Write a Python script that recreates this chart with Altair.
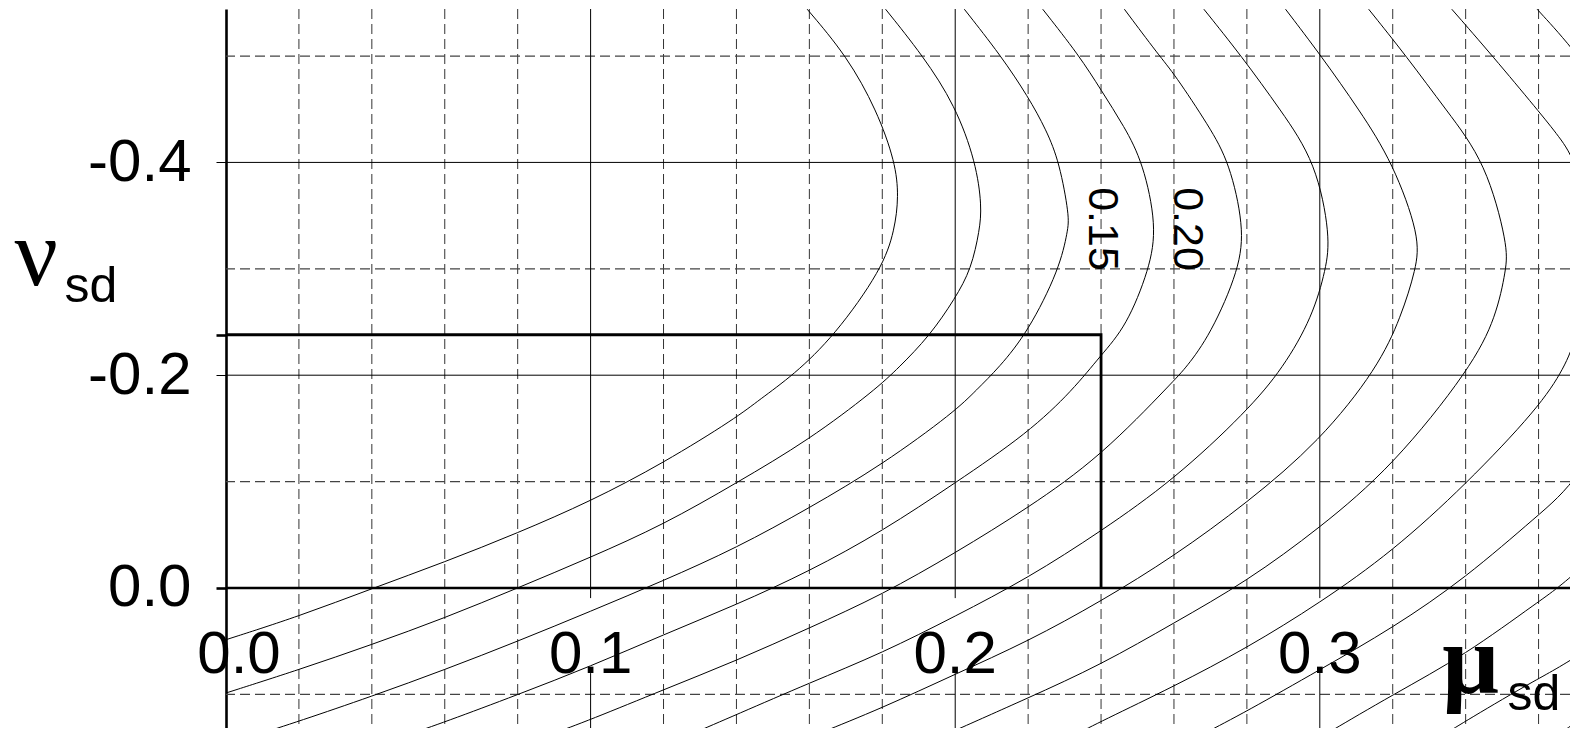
import altair as alt
import pandas as pd

# ---------------- values ----------------
# total reinforcement ratio of each plotted curve (0.15 and 0.20 are labelled)
OMEGA = [0.05, 0.10, 0.15, 0.20, 0.25, 0.30, 0.35, 0.40, 0.45, 0.50, 0.55, 0.60, 0.65]

# each curve, from the top of the diagram down (mu_sd, nu_sd)
MU_005 = [0.1594, 0.1703, 0.1785, 0.1836, 0.1845, 0.1834, 0.1800, 0.1669, 0.1556, 0.1463, 0.14, 0.12, 0.10, 0.08, 0.06, 0.04, 0.02, 0.0]
NU_005 = [-0.544, -0.500, -0.449, -0.400, -0.368, -0.3365, -0.300, -0.237, -0.200, -0.177, -0.160, -0.1175, -0.0815, -0.0517, -0.0244, 0.0006, 0.0266, 0.0486]

MU_010 = [0.1809, 0.1912, 0.20, 0.2057, 0.2073, 0.2067, 0.2044, 0.20, 0.193, 0.1845, 0.178, 0.16, 0.14, 0.12, 0.10, 0.08, 0.06, 0.04, 0.02, 0.0]
NU_010 = [-0.544, -0.500, -0.4537, -0.400, -0.3585, -0.3365, -0.2998, -0.2723, -0.237, -0.207, -0.1861, -0.1394, -0.0987, -0.0595, -0.0288, 0.0, 0.0282, 0.0532, 0.0768, 0.0987]

MU_015 = [0.2025, 0.2126, 0.22, 0.225, 0.2286, 0.2313, 0.2309, 0.2286, 0.22, 0.212, 0.2058, 0.20, 0.18, 0.16, 0.14, 0.12, 0.10, 0.08, 0.06, 0.04, 0.02, 0.0075]
NU_015 = [-0.544, -0.500, -0.4617, -0.4305, -0.400, -0.349, -0.3365, -0.2998, -0.2409, -0.207, -0.1861, -0.166, -0.1159, -0.0752, -0.0376, -0.0069, 0.0219, 0.0501, 0.0768, 0.1018, 0.1253, 0.139]

MU_020 = [0.224, 0.2341, 0.24, 0.2464, 0.2515, 0.2553, 0.2533, 0.2469, 0.24, 0.2323, 0.22, 0.20, 0.18, 0.16, 0.14, 0.12, 0.10, 0.08, 0.06, 0.049]
NU_020 = [-0.544, -0.500, -0.468, -0.4336, -0.400, -0.340, -0.300, -0.2456, -0.219, -0.1861, -0.1457, -0.0987, -0.0533, -0.0157, 0.0157, 0.0439, 0.0736, 0.1003, 0.126, 0.139]

MU_025 = [0.2464, 0.256, 0.26, 0.2697, 0.2752, 0.2792, 0.278, 0.270, 0.2633, 0.26, 0.24, 0.22, 0.20, 0.18, 0.16, 0.14, 0.12, 0.10, 0.088]
NU_025 = [-0.544, -0.500, -0.4837, -0.4336, -0.400, -0.340, -0.300, -0.238, -0.207, -0.195, -0.1237, -0.0752, -0.0329, 0.0063, 0.0376, 0.0683, 0.0956, 0.1238, 0.139]

MU_030 = [0.2682, 0.2785, 0.2893, 0.299, 0.3029, 0.3017, 0.298, 0.290, 0.28, 0.26, 0.24, 0.22, 0.20, 0.18, 0.16, 0.14, 0.1265]
NU_030 = [-0.544, -0.500, -0.449, -0.400, -0.330, -0.300, -0.255, -0.207, -0.166, -0.1018, -0.0533, -0.0094, 0.0266, 0.0611, 0.0893, 0.119, 0.139]

MU_035 = [0.2906, 0.3004, 0.3109, 0.32, 0.3275, 0.3264, 0.3223, 0.3159, 0.30, 0.28, 0.26, 0.24, 0.22, 0.20, 0.18, 0.161]
NU_035 = [-0.544, -0.500, -0.449, -0.400, -0.330, -0.300, -0.255, -0.207, -0.1379, -0.0799, -0.0298, 0.0125, 0.0501, 0.081, 0.1128, 0.139]

MU_040 = [0.3134, 0.3237, 0.3347, 0.3456, 0.3516, 0.3511, 0.3484, 0.3415, 0.32, 0.30, 0.28, 0.26, 0.24, 0.22, 0.1966]
NU_040 = [-0.544, -0.500, -0.449, -0.400, -0.321, -0.300, -0.255, -0.207, -0.1144, -0.0564, -0.0063, 0.0329, 0.0721, 0.1034, 0.139]

MU_045 = [0.3362, 0.3474, 0.3598, 0.3657, 0.3705, 0.3765, 0.3705, 0.3671, 0.36, 0.34, 0.32, 0.30, 0.28, 0.26, 0.24, 0.2323]
NU_045 = [-0.544, -0.500, -0.449, -0.424, -0.400, -0.320, -0.236, -0.207, -0.1692, -0.0971, -0.0345, 0.0141, 0.0564, 0.0925, 0.1253, 0.139]

MU_050 = [0.3596, 0.3707, 0.381, 0.392, 0.398, 0.394, 0.385, 0.3707, 0.36, 0.34, 0.32, 0.30, 0.28, 0.267]
NU_050 = [-0.544, -0.5025, -0.45, -0.40, -0.31, -0.25, -0.19, -0.100, -0.0689, -0.0094, 0.0376, 0.0768, 0.1159, 0.139]

MU_055 = [0.41, 0.40, 0.3707, 0.36, 0.34, 0.32, 0.3008]
NU_055 = [-0.25, -0.12, -0.0125, 0.0125, 0.0627, 0.1003, 0.139]

MU_060 = [0.41, 0.3707, 0.36, 0.34, 0.3335]
NU_060 = [-0.03, 0.0658, 0.0846, 0.125, 0.139]

MU_065 = [0.41, 0.3707, 0.3652]
NU_065 = [0.04, 0.124, 0.139]

CURVES_MU = [MU_005, MU_010, MU_015, MU_020, MU_025, MU_030, MU_035,
             MU_040, MU_045, MU_050, MU_055, MU_060, MU_065]
CURVES_NU = [NU_005, NU_010, NU_015, NU_020, NU_025, NU_030, NU_035,
             NU_040, NU_045, NU_050, NU_055, NU_060, NU_065]

# grid
GRID_MINOR_MU = [0.02, 0.04, 0.06, 0.08, 0.12, 0.14, 0.16, 0.18, 0.22, 0.24,
                 0.26, 0.28, 0.32, 0.34, 0.36]
GRID_MAJOR_MU = [0.1, 0.2, 0.3]
GRID_MINOR_NU = [-0.5, -0.3, -0.1, 0.1]
GRID_MAJOR_NU = [-0.4, -0.2]
AXIS_NU_TICKS = [-0.4, -0.2, 0.0]

# tick labels along mu (written inside the diagram)
X_TICK_VALUES = [0.0, 0.1, 0.2, 0.3]
X_TICK_LABELS = ["0.0", "0.1", "0.2", "0.3"]

# design point drawn as thick rectangle
DESIGN_MU = 0.24
DESIGN_NU = -0.238

# curve labels
CURVE_LABELS = ["0.15", "0.20"]
CURVE_LABEL_MU = [0.2402, 0.2636]
CURVE_LABEL_NU = [-0.3374, -0.3374]

# ---------------- layout ----------------
X_DOMAIN = [0.0, 0.36862]
Y_DOMAIN = [-0.5442, 0.1316]
PLOT_W, PLOT_H = 1344, 719
X_LABEL_NU = 0.0799              # baseline of the mu tick labels
LABEL_GAP = (0.0095, 0.08)        # major vertical lines stop behind the labels
NU_TITLE_POS = (-0.058, -0.2848)
NU_SUB_POS = (-0.0443, -0.2691)
MU_TITLE_POS = (0.3336, 0.0987)
MU_SUB_POS = (0.3515, 0.1144)

NARROW = "Liberation Sans Narrow, Arial Narrow, Liberation Sans, Arial, sans-serif"
SANS = "Liberation Sans, Arial, sans-serif"
SERIF = "Liberation Serif, Times New Roman, DejaVu Serif, serif"
TICK_FS = 60

xs = alt.Scale(domain=X_DOMAIN, nice=False, zero=False)
ys = alt.Scale(domain=Y_DOMAIN, nice=False, zero=False, reverse=True)

thick_test = f"abs(datum.value) < 0.0001 || abs(datum.value - ({DESIGN_NU})) < 0.0001"
Y_AXIS = alt.Axis(
    orient="left",
    values=[AXIS_NU_TICKS[0], DESIGN_NU, AXIS_NU_TICKS[1], AXIS_NU_TICKS[2]],
    labelExpr=(f"abs(datum.value - ({DESIGN_NU})) < 0.0001 ? '' : "
               "(datum.value < -0.0001 ? '-' : '') + format(abs(datum.value), '.1f')"),
    title=None,
    grid=False,
    domain=True,
    domainColor="black",
    domainWidth=2.6,
    ticks=True,
    tickSize=10,
    tickColor="black",
    tickWidth={"condition": {"test": thick_test, "value": 2.6}, "value": 1},
    labelFont=NARROW,
    labelFontSize=TICK_FS,
    labelColor="black",
    labelPadding=25,
    labelOverlap=False,
    labelFlush=False,
)


def X(field="mu"):
    return alt.X(f"{field}:Q", scale=xs, axis=None)


def Y(field="nu"):
    return alt.Y(f"{field}:Q", scale=ys, axis=Y_AXIS)


# ---------------- data tables ----------------
rows = []
for om, mus, nus in zip(OMEGA, CURVES_MU, CURVES_NU):
    for i, (m, n) in enumerate(zip(mus, nus)):
        rows.append({"omega": om, "idx": i, "mu": m, "nu": n})
curves_df = pd.DataFrame(rows)

vminor_df = pd.DataFrame({"mu": GRID_MINOR_MU})
hminor_df = pd.DataFrame({"nu": GRID_MINOR_NU})
hmajor_df = pd.DataFrame({"nu": GRID_MAJOR_NU})
vmajor_df = pd.DataFrame(
    [{"mu": m, "nu": Y_DOMAIN[0] - 0.01, "nu2": LABEL_GAP[0]} for m in GRID_MAJOR_MU]
    + [{"mu": m, "nu": LABEL_GAP[1], "nu2": Y_DOMAIN[1] + 0.01} for m in GRID_MAJOR_MU]
)
zero_df = pd.DataFrame({"nu": [0.0]})
rect_df = pd.DataFrame({"idx": [0, 1, 2],
                        "mu": [0.0, DESIGN_MU, DESIGN_MU],
                        "nu": [DESIGN_NU, DESIGN_NU, 0.0]})
xlab_df = pd.DataFrame({"mu": X_TICK_VALUES, "nu": [X_LABEL_NU] * len(X_TICK_VALUES),
                        "text": X_TICK_LABELS})
clab_df = pd.DataFrame({"mu": CURVE_LABEL_MU, "nu": CURVE_LABEL_NU, "text": CURVE_LABELS})
nu_t_df = pd.DataFrame({"mu": [NU_TITLE_POS[0]], "nu": [NU_TITLE_POS[1]], "text": ["ν"]})
nu_s_df = pd.DataFrame({"mu": [NU_SUB_POS[0]], "nu": [NU_SUB_POS[1]], "text": ["sd"]})
mu_t_df = pd.DataFrame({"mu": [MU_TITLE_POS[0]], "nu": [MU_TITLE_POS[1]], "text": ["μ"]})
mu_s_df = pd.DataFrame({"mu": [MU_SUB_POS[0]], "nu": [MU_SUB_POS[1]], "text": ["sd"]})

# ---------------- layers ----------------
v_dash = alt.Chart(vminor_df).mark_rule(color="#333333", strokeWidth=1, strokeDash=[10, 5]).encode(x=X())
h_dash = alt.Chart(hminor_df).mark_rule(color="#444444", strokeWidth=1.2, strokeDash=[10, 5]).encode(y=Y())
v_major = alt.Chart(vmajor_df).mark_rule(color="black", strokeWidth=1, clip=True).encode(
    x=X(), y=Y(), y2=alt.Y2("nu2:Q"))
h_major = alt.Chart(hmajor_df).mark_rule(color="black", strokeWidth=1).encode(y=Y())

xlab_first = alt.Chart(xlab_df).transform_filter(alt.datum.mu == 0).mark_text(
    font=NARROW, fontSize=TICK_FS, align="center", baseline="alphabetic", color="black", dx=13
).encode(x=X(), y=Y(), text="text:N")
xlab_rest = alt.Chart(xlab_df).transform_filter(alt.datum.mu > 0).mark_text(
    font=NARROW, fontSize=TICK_FS, align="center", baseline="alphabetic", color="black"
).encode(x=X(), y=Y(), text="text:N")

curves = alt.Chart(curves_df).mark_line(
    color="black", strokeWidth=1, clip=True, interpolate="basis"
).encode(x=X(), y=Y(), detail="omega:N", order="idx:Q")

zero_line = alt.Chart(zero_df).mark_rule(color="black", strokeWidth=2.6).encode(y=Y())
rect = alt.Chart(rect_df).mark_line(
    color="black", strokeWidth=2.8, strokeJoin="miter", strokeCap="butt"
).encode(x=X(), y=Y(), order="idx:Q")

clab = alt.Chart(clab_df).mark_text(
    font=SANS, fontSize=43, angle=90, align="center", baseline="middle", color="black"
).encode(x=X(), y=Y(), text="text:N")

nu_t = alt.Chart(nu_t_df).mark_text(font=SERIF, fontSize=96, align="left",
                                    baseline="alphabetic", color="black").encode(x=X(), y=Y(), text="text:N")
nu_s = alt.Chart(nu_s_df).mark_text(font=NARROW, fontSize=50, align="left",
                                    baseline="alphabetic", color="black").encode(x=X(), y=Y(), text="text:N")
mu_t = alt.Chart(mu_t_df).mark_text(font=SERIF, fontSize=100, fontWeight="bold", align="left",
                                    baseline="alphabetic", color="black").encode(x=X(), y=Y(), text="text:N")
mu_s = alt.Chart(mu_s_df).mark_text(font=NARROW, fontSize=50, align="left",
                                    baseline="alphabetic", color="black").encode(x=X(), y=Y(), text="text:N")

chart = alt.layer(
    v_dash, h_dash, v_major, h_major, xlab_first, xlab_rest, curves,
    zero_line, rect, clab, nu_t, nu_s, mu_t, mu_s
).properties(
    width=PLOT_W,
    height=PLOT_H,
    padding={"left": 218, "top": 1, "right": 0, "bottom": 0},
    autosize=alt.AutoSizeParams(type="none"),
    background="white",
).configure_view(strokeWidth=0)

chart.save("out.html", embed_options={"renderer": "svg", "actions": False})
